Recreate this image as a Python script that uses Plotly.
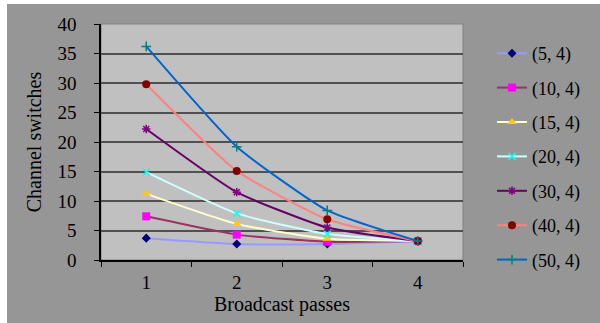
import plotly.graph_objects as go

passes = ["1", "2", "3", "4"]
series_names = ["(5, 4)", "(10, 4)", "(15, 4)", "(20, 4)", "(30, 4)", "(40, 4)", "(50, 4)"]
s5 = [3.7, 2.7, 2.7, 3.2]
s10 = [7.4, 4.3, 3.1, 3.2]
s15 = [11.2, 6.1, 3.6, 3.2]
s20 = [14.9, 7.9, 4.4, 3.2]
s30 = [22.2, 11.5, 5.5, 3.2]
s40 = [29.8, 15.1, 6.9, 3.2]
s50 = [36.2, 19.2, 8.4, 3.2]
values = [s5, s10, s15, s20, s30, s40, s50]
y_ticks = [0, 5, 10, 15, 20, 25, 30, 35, 40]

line_colors = ["#9999FF", "#993366", "#FFFFCC", "#CCFFFF", "#660066", "#FF8080", "#0066CC"]
marker_colors = ["#000080", "#FF00FF", "#FFCC00", "#00FFFF", "#800080", "#800000", "#008080"]
symbols = ["diamond", "square", "triangle-up", "x-thin-open", "asterisk-open", "circle", "cross-thin-open"]
sizes = [7, 8, 8, 7, 7, 8, 7]

W, H = 600, 323
L, R, T, B = 101, 137, 24, 63
pw, ph = W - L - R, H - T - B

fig = go.Figure()
for i, name in enumerate(series_names):
    thin = symbols[i].endswith("open")
    fig.add_trace(go.Scatter(
        x=passes, y=values[i], name=name, mode="lines+markers",
        legendgroup=name,
        line=dict(color=line_colors[i], width=2, shape="spline", smoothing=0.5),
        marker=dict(symbol=symbols[i], size=sizes[i], color=marker_colors[i],
                    line=dict(color=marker_colors[i], width=1.5 if thin else 0)),
    ))

def px_x(p):
    return (p - L) / pw

def px_y(p):
    return (H - B - p) / ph

shapes = [
    dict(type="rect", xref="paper", yref="paper", x0=px_x(0), x1=px_x(7), y0=px_y(H), y1=px_y(0),
         fillcolor="white", line=dict(width=0), layer="below"),
    dict(type="rect", xref="paper", yref="paper", x0=px_x(0), x1=px_x(W), y0=px_y(4), y1=px_y(0),
         fillcolor="white", line=dict(width=0), layer="below"),
    dict(type="rect", xref="paper", yref="paper", x0=0, x1=1, y0=0, y1=1,
         line=dict(color="#808080", width=1), layer="below"),
]

font = '"Liberation Serif", serif'
fig.update_layout(
    width=W, height=H,
    margin=dict(l=L, r=R, t=T, b=B),
    paper_bgcolor="#969696",
    plot_bgcolor="#C0C0C0",
    font=dict(family=font, size=18, color="black"),
    shapes=shapes,
    showlegend=True,
    legend=dict(x=px_x(492), y=px_y(35), xanchor="left", yanchor="top",
                bgcolor="rgba(0,0,0,0)", font=dict(family=font, size=18),
                tracegroupgap=8, itemwidth=30, maxheight=310),
    xaxis=dict(
        type="category", tickson="boundaries", ticks="outside", ticklen=5,
        tickcolor="black", showline=True, linecolor="black", linewidth=1.5,
        showgrid=False, range=[-0.5, 3.5], zeroline=False,
        title=dict(text="Broadcast passes", font=dict(family=font, size=20), standoff=0),
        tickfont=dict(family=font, size=19), ticklabelstandoff=4,
    ),
    yaxis=dict(
        range=[0, 40], tickvals=y_ticks, ticks="outside", ticklen=5,
        tickcolor="black", showline=True, linecolor="black", linewidth=1.5,
        showgrid=True, gridcolor="#505050", gridwidth=1.5, zeroline=False,
        title=dict(text="Channel switches", font=dict(family=font, size=20), standoff=10),
        tickfont=dict(family=font, size=19), ticklabelstandoff=14,
    ),
)

fig.write_html("out.html")
